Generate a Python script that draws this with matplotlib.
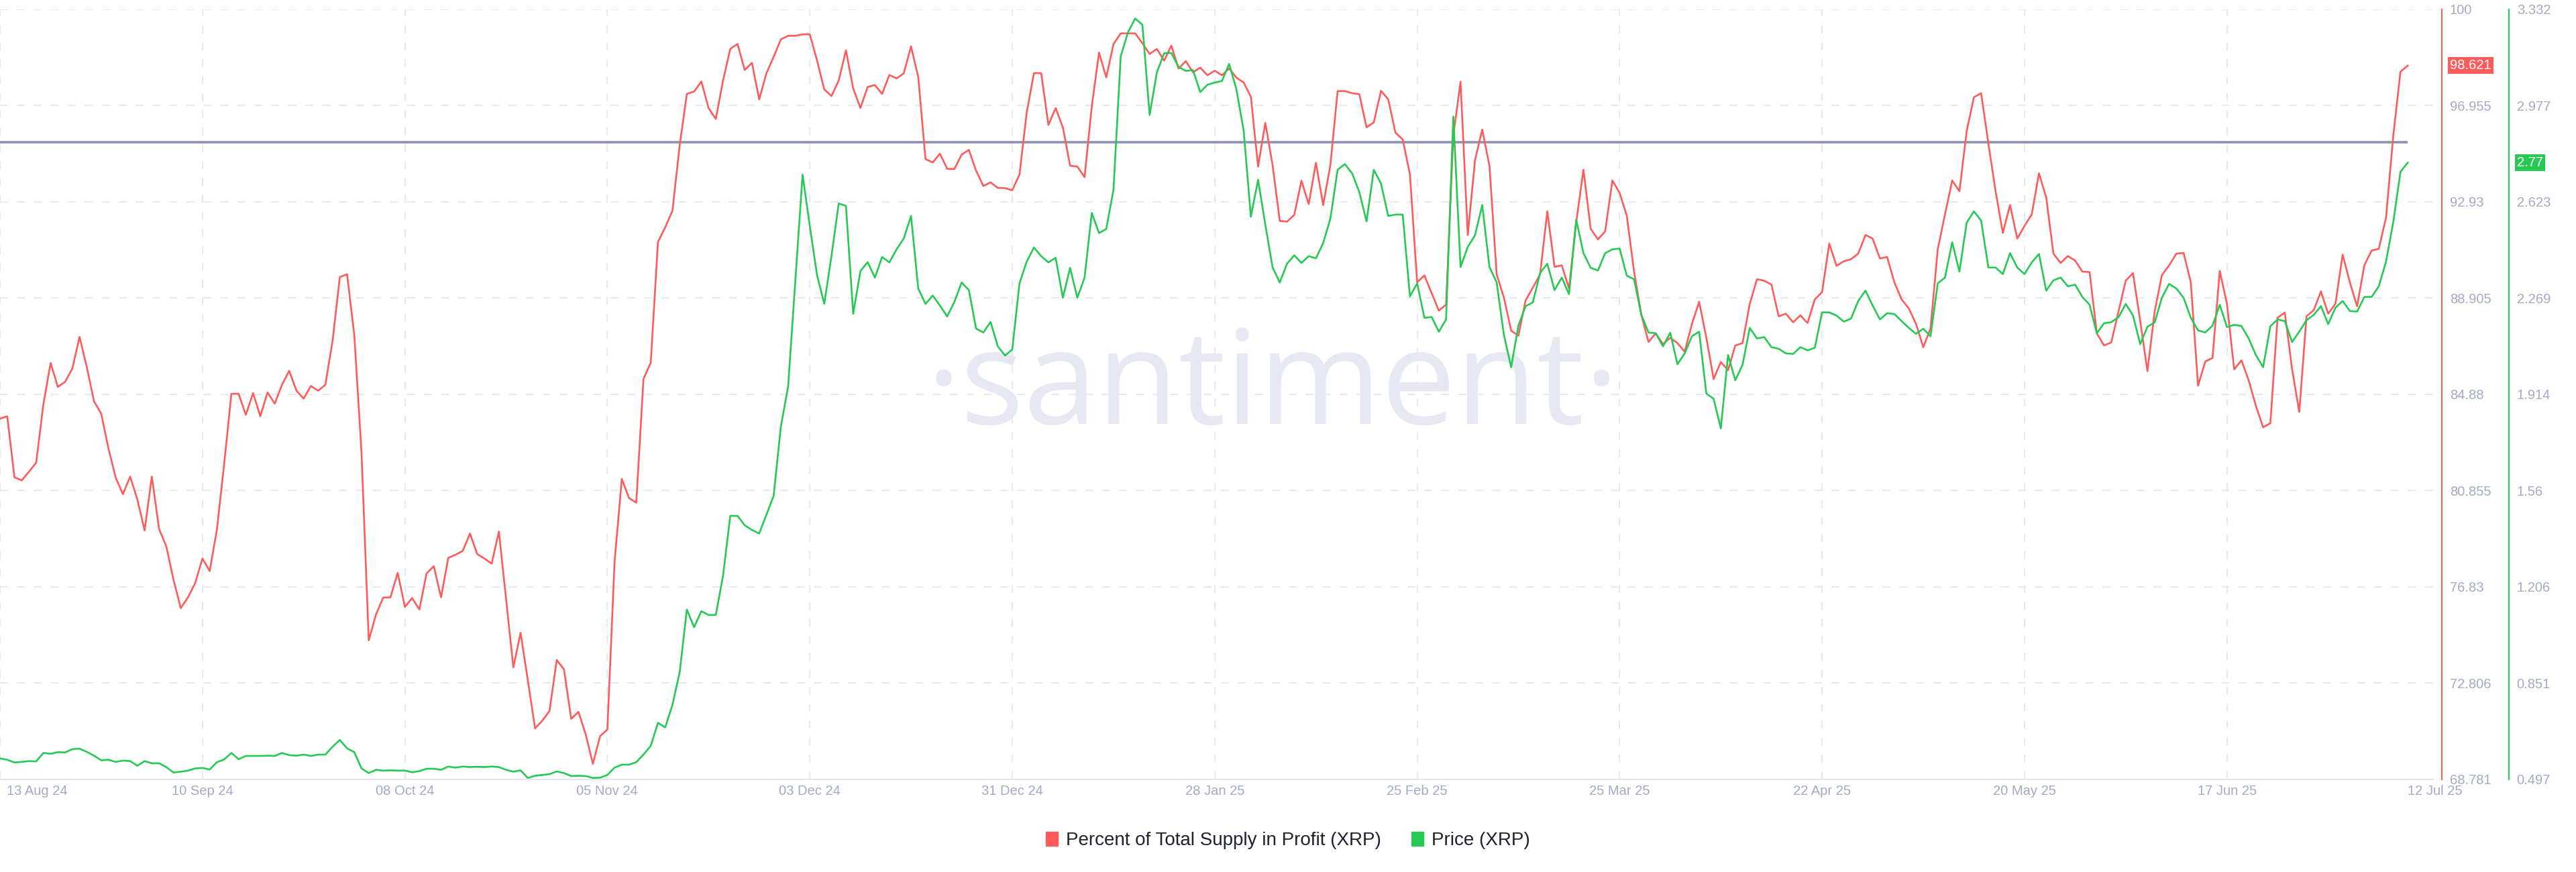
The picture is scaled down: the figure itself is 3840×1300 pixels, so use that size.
import pandas as pd
import matplotlib
matplotlib.use('Agg')
import matplotlib.pyplot as plt
import matplotlib.transforms as mtransforms
from matplotlib.patches import Patch

# ---------------------------------------------------------------
# data: daily values, 13 Aug 2024 -> 12 Jul 2025 (334 days)
start_date = '2024-08-13'
end_date = '2025-07-12'

# Percent of Total Supply in Profit (XRP)
supply_in_profit = [
    83.86, 83.96, 81.41, 81.28, 81.64, 82.02, 84.46, 86.19, 85.19, 85.40,
    85.95, 87.28, 86.03, 84.59, 84.07, 82.61, 81.40, 80.70, 81.44, 80.48,
    79.19, 81.44, 79.25, 78.52, 77.12, 75.94, 76.39, 76.99, 78.01, 77.49,
    79.22, 81.96, 84.90, 84.90, 84.02, 84.93, 83.96, 84.96, 84.49, 85.28,
    85.86, 85.03, 84.70, 85.23, 85.03, 85.28, 87.12, 89.78, 89.90, 87.36,
    82.44, 74.59, 75.67, 76.38, 76.39, 77.41, 75.99, 76.36, 75.88, 77.39,
    77.69, 76.39, 78.04, 78.17, 78.33, 79.06, 78.20, 78.01, 77.80, 79.14,
    76.31, 73.46, 74.91, 72.93, 70.91, 71.23, 71.64, 73.77, 73.38, 71.31,
    71.60, 70.67, 69.43, 70.59, 70.86, 77.88, 81.34, 80.54, 80.35, 85.53,
    86.20, 91.25, 91.86, 92.55, 95.28, 97.44, 97.54, 97.96, 96.85, 96.39,
    98.00, 99.32, 99.53, 98.44, 98.74, 97.21, 98.30, 98.99, 99.72, 99.87,
    99.87, 99.93, 99.93, 98.84, 97.63, 97.35, 98.00, 99.26, 97.67, 96.85,
    97.73, 97.81, 97.44, 98.23, 98.09, 98.30, 99.43, 98.14, 94.72, 94.57,
    94.94, 94.31, 94.30, 94.90, 95.10, 94.23, 93.59, 93.74, 93.51, 93.50,
    93.41, 94.07, 96.66, 98.31, 98.31, 96.14, 96.85, 96.04, 94.44, 94.40,
    93.96, 96.92, 99.17, 98.13, 99.52, 99.97, 99.97, 99.97, 99.56, 99.11,
    99.32, 98.83, 99.46, 98.50, 98.81, 98.34, 98.54, 98.22, 98.41, 98.22,
    98.50, 98.12, 97.92, 97.32, 94.40, 96.23, 94.47, 92.13, 92.10, 92.38,
    93.81, 92.83, 94.56, 92.79, 94.47, 97.56, 97.56, 97.47, 97.43, 96.04,
    96.25, 97.57, 97.21, 95.82, 95.54, 94.08, 89.56, 89.85, 89.11, 88.38,
    88.63, 95.69, 97.95, 91.54, 94.66, 95.95, 94.43, 89.89, 88.92, 87.54,
    87.33, 88.81, 89.34, 89.89, 92.53, 90.21, 90.27, 89.31, 92.08, 94.27,
    91.80, 91.36, 91.69, 93.82, 93.30, 92.34, 90.01, 88.21, 87.07, 87.43,
    86.98, 87.24, 87.02, 86.66, 87.82, 88.75, 87.24, 85.52, 86.23, 85.89,
    86.92, 87.02, 88.66, 89.69, 89.63, 89.47, 88.14, 88.25, 87.89, 88.18,
    87.86, 88.85, 89.15, 91.18, 90.25, 90.44, 90.53, 90.76, 91.54, 91.39,
    90.56, 90.62, 89.56, 88.85, 88.47, 87.82, 86.85, 87.63, 90.94, 92.40,
    93.82, 93.37, 95.88, 97.30, 97.47, 95.37, 93.37, 91.63, 92.79, 91.39,
    91.92, 92.40, 94.12, 93.11, 90.76, 90.37, 90.66, 90.47, 90.01, 89.99,
    87.43, 86.92, 87.05, 88.34, 89.63, 89.95, 87.95, 85.85, 88.34, 89.86,
    90.27, 90.76, 90.79, 89.56, 85.24, 86.25, 86.40, 90.04, 88.66, 85.92,
    86.30, 85.47, 84.40, 83.50, 83.67, 88.08, 88.30, 85.95, 84.14, 88.14,
    88.40, 89.18, 88.25, 88.66, 90.72, 89.56, 88.56, 90.27, 90.89, 90.96,
    92.27, 95.69, 98.37, 98.621,
]

# Price (XRP), USD
price = [
    0.574, 0.569, 0.559, 0.561, 0.564, 0.563, 0.594, 0.591, 0.597, 0.596,
    0.608, 0.610, 0.598, 0.584, 0.567, 0.569, 0.561, 0.566, 0.564, 0.547,
    0.564, 0.556, 0.556, 0.542, 0.522, 0.525, 0.529, 0.537, 0.539, 0.533,
    0.560, 0.570, 0.594, 0.571, 0.583, 0.583, 0.583, 0.584, 0.583, 0.594,
    0.586, 0.584, 0.588, 0.583, 0.588, 0.588, 0.617, 0.642, 0.611, 0.597,
    0.537, 0.520, 0.532, 0.529, 0.530, 0.529, 0.529, 0.523, 0.527, 0.536,
    0.536, 0.532, 0.544, 0.540, 0.544, 0.542, 0.543, 0.542, 0.544, 0.542,
    0.532, 0.525, 0.530, 0.502, 0.510, 0.513, 0.516, 0.526, 0.520, 0.509,
    0.510, 0.509, 0.502, 0.503, 0.513, 0.540, 0.551, 0.551, 0.560, 0.588,
    0.620, 0.705, 0.688, 0.771, 0.891, 1.122, 1.057, 1.116, 1.102, 1.102,
    1.246, 1.467, 1.467, 1.432, 1.415, 1.402, 1.471, 1.541, 1.796, 1.943,
    2.331, 2.723, 2.534, 2.353, 2.248, 2.424, 2.617, 2.608, 2.211, 2.368,
    2.401, 2.344, 2.420, 2.400, 2.448, 2.488, 2.571, 2.304, 2.247, 2.278,
    2.241, 2.201, 2.255, 2.326, 2.298, 2.156, 2.142, 2.181, 2.091, 2.057,
    2.079, 2.323, 2.403, 2.455, 2.423, 2.400, 2.417, 2.270, 2.380, 2.270,
    2.344, 2.582, 2.508, 2.523, 2.667, 3.158, 3.247, 3.298, 3.275, 2.943,
    3.099, 3.170, 3.171, 3.120, 3.105, 3.108, 3.027, 3.054, 3.062, 3.068,
    3.131, 3.037, 2.887, 2.568, 2.704, 2.539, 2.382, 2.326, 2.395, 2.426,
    2.398, 2.423, 2.415, 2.471, 2.562, 2.741, 2.762, 2.728, 2.659, 2.551,
    2.741, 2.690, 2.571, 2.576, 2.576, 2.275, 2.323, 2.196, 2.199, 2.145,
    2.190, 2.937, 2.383, 2.457, 2.500, 2.611, 2.383, 2.326, 2.133, 2.014,
    2.167, 2.239, 2.253, 2.361, 2.395, 2.298, 2.344, 2.283, 2.557, 2.434,
    2.380, 2.370, 2.434, 2.448, 2.451, 2.351, 2.338, 2.207, 2.142, 2.139,
    2.091, 2.141, 2.025, 2.065, 2.128, 2.145, 1.917, 1.898, 1.789, 2.059,
    1.966, 2.023, 2.159, 2.120, 2.125, 2.088, 2.082, 2.065, 2.063, 2.088,
    2.076, 2.086, 2.216, 2.216, 2.204, 2.182, 2.193, 2.258, 2.296, 2.241,
    2.190, 2.213, 2.210, 2.184, 2.159, 2.137, 2.156, 2.128, 2.323, 2.344,
    2.474, 2.366, 2.546, 2.588, 2.554, 2.381, 2.381, 2.357, 2.434, 2.381,
    2.357, 2.400, 2.431, 2.296, 2.334, 2.344, 2.312, 2.318, 2.273, 2.244,
    2.139, 2.176, 2.180, 2.198, 2.247, 2.205, 2.099, 2.163, 2.179, 2.270,
    2.321, 2.304, 2.270, 2.196, 2.150, 2.142, 2.167, 2.244, 2.162, 2.170,
    2.166, 2.120, 2.059, 2.014, 2.165, 2.190, 2.184, 2.107, 2.145, 2.187,
    2.207, 2.239, 2.173, 2.233, 2.258, 2.221, 2.219, 2.273, 2.273, 2.312,
    2.403, 2.548, 2.734, 2.767,
]

# horizontal reference level (on the profit axis)
ref_level = 95.42

# axis ticks
profit_ticks = [68.781, 72.806, 76.83, 80.855, 84.88, 88.905, 92.93, 96.955, 100.98]
profit_tick_labels = ['68.781', '72.806', '76.83', '80.855', '84.88', '88.905',
                      '92.93', '96.955', '100']
price_ticks = [0.497, 0.851, 1.206, 1.56, 1.914, 2.269, 2.623, 2.977, 3.332]
price_tick_labels = ['0.497', '0.851', '1.206', '1.56', '1.914', '2.269',
                     '2.623', '2.977', '3.332']
date_ticks = ['2024-08-13', '2024-09-10', '2024-10-08', '2024-11-05', '2024-12-03',
              '2024-12-31', '2025-01-28', '2025-02-25', '2025-03-25', '2025-04-22',
              '2025-05-20', '2025-06-17']

legend_labels = ['Percent of Total Supply in Profit (XRP)', 'Price (XRP)']

# ---------------------------------------------------------------
red = '#ff5b5b'
green = '#26c953'
axis_text = '#a2abc5'
grid_color = '#e7e9f2'

plt.rcParams['font.family'] = ['Liberation Sans', 'DejaVu Sans']

dates = pd.date_range(start_date, end_date, freq='D')

fig = plt.figure(figsize=(38.4, 13), dpi=100, facecolor='white')
ax = fig.add_axes([0, 0.1063, 0.9445, 0.8831])
ax2 = ax.twinx()

# watermark
ax.text(0.523, 0.4615, '\u00b7santiment\u00b7', transform=ax.transAxes,
        ha='center', va='baseline', fontsize=142, family=['Open Sans', 'DejaVu Sans'],
        color='#e6e9f3', zorder=0)

# 1. profit line + reference line
ax.plot(dates, supply_in_profit, color=red, lw=1.9, zorder=3)
ax.hlines(ref_level, dates[0], dates[-1], color='#8b91b4', lw=2.6, zorder=2)

ax.set_xlim(dates[0], dates[0] + pd.Timedelta(days=336.5))
ax.set_ylim(profit_ticks[0], profit_ticks[-1])
ax.yaxis.tick_right()
ax.set_yticks(profit_ticks, profit_tick_labels)

# date labels; the first and the last one are pushed inside the plot
tick_dates = pd.to_datetime(date_ticks)
tick_labels = [d.strftime('%d %b %y') for d in tick_dates]
ax.set_xticks(tick_dates, [''] + tick_labels[1:])
label_trans = mtransforms.blended_transform_factory(ax.transData, ax.transAxes)
ax.text(tick_dates[0] + pd.Timedelta(days=0.9), -0.0075, tick_labels[0],
        transform=label_trans, ha='left', va='top', fontsize=14.5, color=axis_text)
ax.text(dates[-1], -0.0075, dates[-1].strftime('%d %b %y'),
        transform=label_trans, ha='left', va='top', fontsize=14.5, color=axis_text)

ax.tick_params(axis='x', length=0, pad=6, labelsize=14.5, labelcolor=axis_text)
ax.tick_params(axis='y', length=0, pad=8.5, labelsize=14.5, labelcolor=axis_text)
ax.grid(True, color=grid_color, linestyle=(0, (6, 7)), lw=1.4)
ax.set_axisbelow(True)

for side in ['left', 'top']:
    ax.spines[side].set_visible(False)
ax.spines['bottom'].set_color('#e2e5ef')
ax.spines['bottom'].set_linewidth(1.6)
ax.spines['right'].set_color(red)
ax.spines['right'].set_linewidth(1.5)
ax.spines['right'].set_position(('outward', 9.4))

# 2. price line on its own axis
ax2.plot(dates, price, color=green, lw=1.9)
ax2.set_ylim(price_ticks[0], price_ticks[-1])
ax2.set_yticks(price_ticks, price_tick_labels)
ax2.tick_params(axis='y', length=0, pad=8.5, labelsize=14.5, labelcolor=axis_text)
for side in ['left', 'top', 'bottom']:
    ax2.spines[side].set_visible(False)
ax2.spines['right'].set_color(green)
ax2.spines['right'].set_linewidth(1.5)
ax2.spines['right'].set_position(('outward', 81.4))

# 3. last value badges
fig.text(3652 / 3840, supply_in_profit[-1], f'{supply_in_profit[-1]:.3f}',
         transform=mtransforms.blended_transform_factory(fig.transFigure, ax.transData),
         ha='left', va='center', fontsize=14.5, color='white',
         bbox=dict(boxstyle='square,pad=0.15', fc=red, ec='none'))
fig.text(3752 / 3840, price[-1], f'{price[-1]:.2f}',
         transform=mtransforms.blended_transform_factory(fig.transFigure, ax2.transData),
         ha='left', va='center', fontsize=14.5, color='white',
         bbox=dict(boxstyle='square,pad=0.15', fc=green, ec='none'))

# 4. legend
fig.legend(handles=[Patch(color=red), Patch(color=green)], labels=legend_labels,
           loc='center', bbox_to_anchor=(0.5, 0.036), ncol=2, frameon=False,
           fontsize=20, handlelength=0.65, handleheight=0.75, handletextpad=0.45,
           columnspacing=1.6, labelcolor='#1e2231')

fig.savefig('out.png', dpi=100, facecolor='white')
